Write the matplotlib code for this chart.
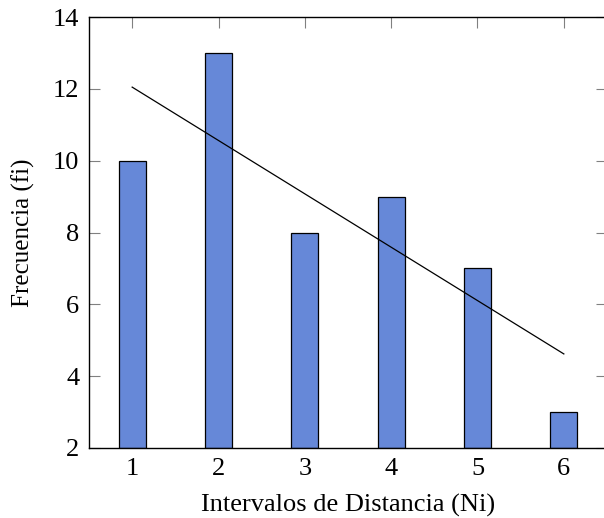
import numpy as np
import matplotlib.pyplot as plt

plt.rcParams['font.family'] = ['Liberation Serif', 'DejaVu Serif']

intervalos = [1, 2, 3, 4, 5, 6]
frecuencia = [10, 13, 8, 9, 7, 3]

# linea de tendencia (minimos cuadrados)
m, c = np.polyfit(intervalos, frecuencia, 1)
x_t = np.array([intervalos[0], intervalos[-1]])
y_t = m * x_t + c

fig = plt.figure(figsize=(6.04, 5.18), dpi=100)
ax = fig.add_axes([89 / 604, 70 / 518, 518 / 604, 431 / 518])

ax.bar(intervalos, [f - 2 for f in frecuencia], bottom=2, width=0.31,
       color='#6688d8', edgecolor='black', linewidth=0.9, zorder=2)
ax.plot(x_t, y_t, color='black', linewidth=0.9, zorder=3)

ax.set_xlim(0.5, 6.5)
ax.set_ylim(2, 14)
ax.set_xticks(intervalos)
ax.set_yticks([2, 4, 6, 8, 10, 12, 14])
ax.tick_params(direction='in', length=8, width=0.8, color='#808080',
               top=True, right=True, labelsize=19, pad=7)
for s in ax.spines.values():
    s.set_linewidth(1.0)

ax.set_xlabel('Intervalos de Distancia (Ni)', fontsize=19, labelpad=10)
ax.set_ylabel('Frecuencia (fi)', fontsize=18, labelpad=13)

fig.savefig('out.png', dpi=100)
